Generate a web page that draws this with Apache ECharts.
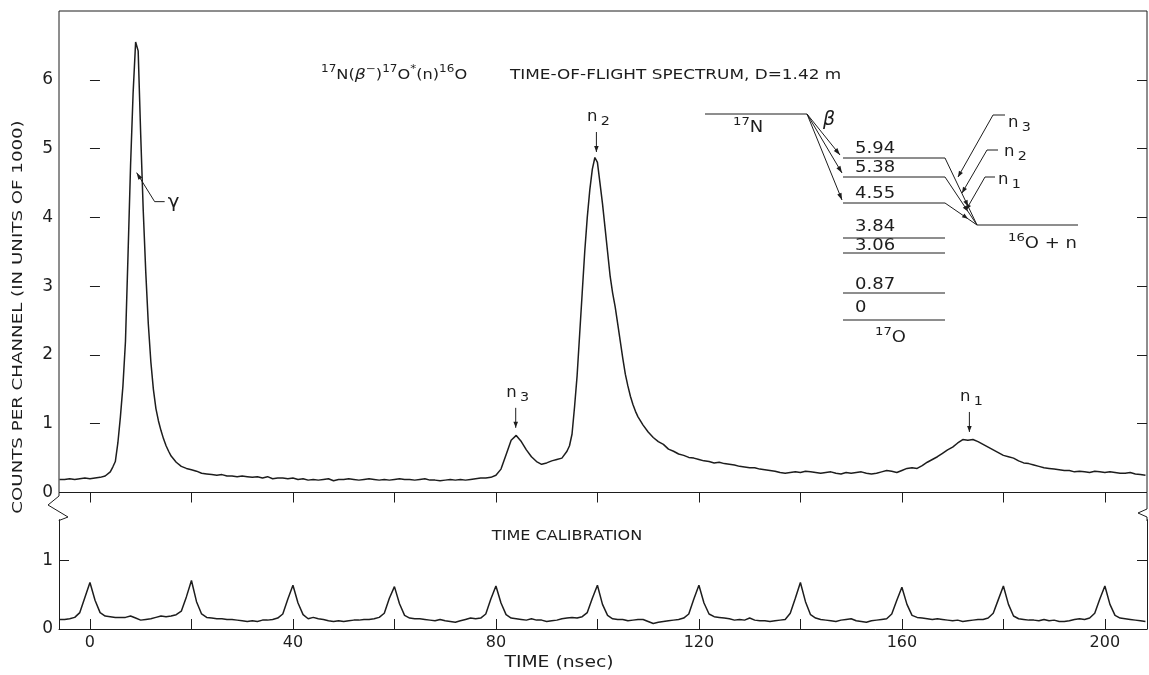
<!DOCTYPE html>
<html>
<head>
<meta charset="utf-8">
<title>17N time-of-flight spectrum</title>
<script src="https://cdn.jsdelivr.net/npm/echarts@6/dist/echarts.min.js"></script>
<style>
  html, body { margin: 0; padding: 0; background: #fff; }
  #container { width: 1149px; height: 675px; }
</style>
</head>
<body>
<div id="container"></div>
<script>
// time-of-flight spectrum, counts per channel in units of 1000
var specTime = [
  -6, -5, -4, -3, -2, -1, 0, 1, 2, 3,
  4, 4.5, 5, 5.5, 6, 6.5, 7, 7.5, 8, 8.5,
  9, 9.5, 10, 10.5, 11, 11.5, 12, 12.5, 13, 13.5,
  14, 14.5, 15, 15.5, 16, 17, 18, 19, 20, 21,
  22, 23, 24, 25, 26, 27, 28, 29, 30, 31,
  32, 33, 34, 35, 36, 37, 38, 39, 40, 41,
  42, 43, 44, 45, 46, 47, 48, 49, 50, 51,
  52, 53, 54, 55, 56, 57, 58, 59, 60, 61,
  62, 63, 64, 65, 66, 67, 68, 69, 70, 71,
  72, 73, 74, 75, 76, 77, 78, 79, 80, 81,
  82, 83, 84, 85, 86, 87, 88, 89, 90, 91,
  92, 93,
  94, 94.5, 95, 95.5, 96, 96.5, 97, 97.5, 98, 98.5,
  99, 99.5, 100, 100.5, 101, 101.5, 102, 102.5, 103, 103.5,
  104, 104.5, 105, 105.5, 106, 106.5, 107, 107.5, 108,
  109, 110, 111, 112, 113, 114, 115, 116, 117, 118,
  119, 120, 121, 122, 123, 124, 125, 126, 127, 128,
  129, 130, 131, 132, 133, 134, 135, 136, 137, 138,
  139, 140, 141, 142, 143, 144, 145, 146, 147, 148,
  149, 150, 151, 152, 153, 154, 155, 156, 157, 158,
  159, 160, 161, 162, 163, 164, 165, 166, 167, 168,
  169, 170, 171, 172, 173, 174, 175, 176, 177, 178,
  179, 180, 181, 182, 183, 184, 185, 186, 187, 188,
  189, 190, 191, 192, 193, 194, 195, 196, 197, 198,
  199, 200, 201, 202, 203, 204, 205, 206, 207, 208
];
var specCounts = [
  0.19, 0.19, 0.20, 0.19, 0.20, 0.21, 0.20, 0.21, 0.22, 0.24,
  0.30, 0.37, 0.45, 0.72, 1.10, 1.55, 2.20, 3.45, 4.75, 5.80,
  6.55, 6.42, 5.20, 4.10, 3.20, 2.45, 1.90, 1.50, 1.22, 1.04,
  0.90, 0.78, 0.68, 0.60, 0.53, 0.44, 0.38, 0.35, 0.33, 0.31,
  0.28, 0.27, 0.26, 0.25, 0.26, 0.24, 0.24, 0.23, 0.24, 0.23,
  0.22, 0.23, 0.21, 0.23, 0.20, 0.21, 0.21, 0.20, 0.21, 0.19,
  0.20, 0.18, 0.19, 0.18, 0.19, 0.20, 0.17, 0.19, 0.19, 0.20,
  0.19, 0.18, 0.19, 0.20, 0.19, 0.18, 0.19, 0.18, 0.19, 0.20,
  0.19, 0.19, 0.18, 0.19, 0.20, 0.18, 0.18, 0.17, 0.18, 0.19,
  0.18, 0.19, 0.18, 0.19, 0.20, 0.21, 0.21, 0.22, 0.25, 0.34,
  0.55, 0.76, 0.83, 0.74, 0.62, 0.52, 0.45, 0.41, 0.43, 0.46,
  0.48, 0.50,
  0.60, 0.68, 0.85, 1.25, 1.70, 2.30, 2.90, 3.50, 4.00, 4.40,
  4.70, 4.87, 4.80, 4.50, 4.20, 3.85, 3.50, 3.15, 2.90, 2.70,
  2.45, 2.20, 1.95, 1.72, 1.55, 1.40, 1.28, 1.18, 1.10,
  0.98, 0.88, 0.80, 0.74, 0.70, 0.63, 0.60, 0.56, 0.54, 0.51,
  0.50, 0.48, 0.46, 0.45, 0.43, 0.44, 0.42, 0.41, 0.40, 0.38,
  0.37, 0.36, 0.36, 0.34, 0.33, 0.32, 0.31, 0.29, 0.28, 0.29,
  0.30, 0.29, 0.31, 0.30, 0.29, 0.28, 0.29, 0.30, 0.28, 0.27,
  0.29, 0.28, 0.29, 0.30, 0.28, 0.27, 0.28, 0.30, 0.32, 0.31,
  0.29, 0.32, 0.35, 0.36, 0.35, 0.39, 0.44, 0.48, 0.52, 0.57,
  0.62, 0.66, 0.72, 0.77, 0.76, 0.77, 0.74, 0.70, 0.66, 0.62,
  0.58, 0.54, 0.52, 0.50, 0.46, 0.43, 0.42, 0.40, 0.38, 0.36,
  0.35, 0.34, 0.33, 0.32, 0.32, 0.30, 0.31, 0.30, 0.29, 0.31,
  0.30, 0.29, 0.30, 0.29, 0.28, 0.28, 0.29, 0.27, 0.26, 0.25
];

// time calibration trace, one channel per nsec from calStart
var calStart = -6;
var calCounts = [
  0.14, 0.14, 0.15, 0.17, 0.24, 0.46,
  0.68, 0.42, 0.24, 0.19, 0.18, 0.17, 0.17, 0.17, 0.19, 0.16, 0.13, 0.14, 0.15, 0.17, 0.19, 0.18, 0.19, 0.21, 0.26, 0.47,
  0.71, 0.40, 0.22, 0.17, 0.16, 0.15, 0.15, 0.14, 0.14, 0.13, 0.12, 0.11, 0.12, 0.11, 0.13, 0.13, 0.14, 0.16, 0.22, 0.44,
  0.64, 0.38, 0.21, 0.15, 0.17, 0.15, 0.14, 0.12, 0.11, 0.12, 0.11, 0.12, 0.13, 0.13, 0.14, 0.14, 0.15, 0.17, 0.23, 0.45,
  0.62, 0.37, 0.20, 0.16, 0.15, 0.15, 0.14, 0.13, 0.12, 0.14, 0.12, 0.11, 0.10, 0.12, 0.14, 0.16, 0.15, 0.16, 0.22, 0.44,
  0.63, 0.38, 0.21, 0.16, 0.15, 0.14, 0.13, 0.15, 0.13, 0.13, 0.11, 0.12, 0.13, 0.15, 0.16, 0.17, 0.16, 0.18, 0.24, 0.45,
  0.64, 0.36, 0.20, 0.15, 0.14, 0.14, 0.12, 0.13, 0.14, 0.14, 0.11, 0.08, 0.10, 0.11, 0.12, 0.13, 0.14, 0.16, 0.22, 0.44,
  0.64, 0.38, 0.22, 0.18, 0.17, 0.16, 0.15, 0.13, 0.14, 0.13, 0.16, 0.13, 0.12, 0.12, 0.11, 0.12, 0.13, 0.14, 0.23, 0.45,
  0.68, 0.40, 0.21, 0.16, 0.14, 0.13, 0.12, 0.11, 0.13, 0.14, 0.15, 0.12, 0.11, 0.10, 0.12, 0.13, 0.14, 0.15, 0.22, 0.42,
  0.61, 0.36, 0.20, 0.17, 0.16, 0.15, 0.14, 0.15, 0.14, 0.13, 0.12, 0.13, 0.11, 0.12, 0.13, 0.14, 0.14, 0.16, 0.23, 0.43,
  0.63, 0.36, 0.19, 0.15, 0.14, 0.13, 0.13, 0.12, 0.14, 0.12, 0.13, 0.11, 0.11, 0.12, 0.14, 0.15, 0.14, 0.16, 0.23, 0.44,
  0.63, 0.36, 0.20, 0.16, 0.15, 0.14, 0.13, 0.12, 0.11
];

var timeTicks = [0, 20, 40, 60, 80, 100, 120, 140, 160, 180, 200];
var timeLabels = [0, 40, 80, 120, 160, 200];
var countTicks = [0, 1, 2, 3, 4, 5, 6];
var calTicks = [0, 1];

// peaks of the spectrum marked with an arrow: subscript, time, counts at arrow tip
var peakNames = ['2', '3', '1'];
var peakTimes = [99.8, 83.9, 173.3];
var peakCounts = [4.95, 0.94, 0.88];
var gammaTip = [9.2, 4.65];

// 17O levels in the inset (MeV)
var levelNames = ['5.94', '5.38', '4.55', '3.84', '3.06', '0.87', '0'];

var ink = '#1d1d1d';
var font = 'DejaVu Sans';

var specData = specTime.map(function (t, i) { return [t, specCounts[i]]; });
var calData = calCounts.map(function (c, i) { return [calStart + i, c]; });

var chart = echarts.init(document.getElementById('container'));

var tickStyle = { color: ink, width: 1 };

chart.setOption({
  backgroundColor: '#ffffff',
  animation: false,
  grid: [
    { left: 59, right: 2, top: 11, height: 481.5, show: true, borderColor: ink, borderWidth: 1 },
    { left: 59, right: 2, top: 519.7, height: 109.3 }
  ],
  xAxis: [
    {
      gridIndex: 0, type: 'value', position: 'top', min: -6.1, max: 208.3,
      axisLine: { show: false },
      axisTick: { inside: true, length: 10, customValues: timeTicks, lineStyle: tickStyle },
      axisLabel: { show: false },
      splitLine: { show: false }
    },
    {
      gridIndex: 1, type: 'value', position: 'bottom', min: -6.1, max: 208.3,
      axisLine: { onZero: false, lineStyle: { color: ink, width: 1 } },
      axisTick: { inside: true, length: 10, customValues: timeTicks, lineStyle: tickStyle },
      axisLabel: { customValues: timeLabels, margin: 6, color: ink, fontFamily: font, fontSize: 16 },
      splitLine: { show: false }
    }
  ],
  yAxis: [
    {
      gridIndex: 0, type: 'value', position: 'left', min: 0, max: 7,
      axisLine: { show: false },
      axisTick: { inside: true, length: 10, customValues: countTicks, lineStyle: tickStyle },
      axisLabel: { customValues: countTicks, margin: 6, color: ink, fontFamily: font, fontSize: 17 },
      splitLine: { show: false }
    },
    {
      gridIndex: 0, type: 'value', position: 'right', min: 0, max: 7,
      axisLine: { show: false },
      axisTick: { inside: true, length: 10, customValues: countTicks, lineStyle: tickStyle },
      axisLabel: { show: false },
      splitLine: { show: false }
    },
    {
      gridIndex: 1, type: 'value', position: 'left', min: 0, max: 1.6,
      axisLine: { onZero: false, lineStyle: { color: ink, width: 1 } },
      axisTick: { inside: true, length: 10, customValues: calTicks, lineStyle: tickStyle },
      axisLabel: { customValues: calTicks, margin: 6, color: ink, fontFamily: font, fontSize: 17 },
      splitLine: { show: false }
    },
    {
      gridIndex: 1, type: 'value', position: 'right', min: 0, max: 1.6,
      axisLine: { onZero: false, lineStyle: { color: ink, width: 1 } },
      axisTick: { inside: true, length: 10, customValues: calTicks, lineStyle: tickStyle },
      axisLabel: { show: false },
      splitLine: { show: false }
    }
  ],
  series: [
    {
      name: 'spectrum', type: 'line', xAxisIndex: 0, yAxisIndex: 0, data: specData,
      showSymbol: false, silent: true, lineStyle: { color: ink, width: 1.5 }
    },
    {
      name: 'calibration', type: 'line', xAxisIndex: 1, yAxisIndex: 2, data: calData,
      showSymbol: false, silent: true, lineStyle: { color: ink, width: 1.5 }
    }
  ]
});

// ---- annotations ----
var g = [];

function seg(x1, y1, x2, y2) {
  g.push({ type: 'line', silent: true, shape: { x1: x1, y1: y1, x2: x2, y2: y2 }, style: { stroke: ink, lineWidth: 1 } });
}
function head(x, y, ang, len) {
  len = len || 7;
  var w = 2.3, c = Math.cos(ang), s = Math.sin(ang);
  g.push({
    type: 'polygon', silent: true,
    shape: { points: [[x, y], [x - len * c + w * s, y - len * s - w * c], [x - len * c - w * s, y - len * s + w * c]] },
    style: { fill: ink }
  });
}
function arrow(x1, y1, x2, y2, len) {
  seg(x1, y1, x2, y2);
  head(x2, y2, Math.atan2(y2 - y1, x2 - x1), len);
}
function poly(points) {
  g.push({ type: 'polyline', silent: true, shape: { points: points }, style: { stroke: ink, lineWidth: 1, fill: null } });
}
function rich(size) {
  return {
    m: { fontFamily: font, fontSize: size, lineHeight: 22, fill: ink },
    i: { fontFamily: font, fontSize: size + 1, fontStyle: 'italic', lineHeight: 22, fill: ink },
    u: { fontFamily: font, fontSize: Math.round(size * 0.72), lineHeight: 12, verticalAlign: 'top', fill: ink },
    d: { fontFamily: font, fontSize: Math.round(size * 0.85), lineHeight: 14, verticalAlign: 'bottom', padding: [0, 0, 0, 3], fill: ink }
  };
}
function txt(x, y, text, size, align, sx, extra) {
  var style = {
    text: text, fontFamily: font, fontSize: size, fill: ink,
    align: align || 'left', verticalAlign: 'middle',
    textAlign: align || 'left', textVerticalAlign: 'middle'
  };
  if (text.indexOf('{') >= 0) style.rich = rich(size);
  if (extra) for (var k in extra) style[k] = extra[k];
  g.push({ type: 'text', silent: true, x: x, y: y, scaleX: sx || 1.2, style: style });
}

// frame breaks between the two panels
poly([[59, 492.5], [59, 496], [48, 505], [68, 517], [59, 520.5], [59, 521]]);
poly([[1147, 492.5], [1147, 509], [1138, 513], [1147, 517], [1147, 521]]);

// title and axis names
txt(321, 75, '{u|17}{m|N(}{i|β}{u|−}{m|)}{u|17}{m|O}{u|*}{m|(n)}{u|16}{m|O}', 13.5, 'left', 1.2);
txt(510, 75, 'TIME-OF-FLIGHT SPECTRUM, D=1.42 m', 13.5, 'left', 1.25);
txt(567, 536, 'TIME CALIBRATION', 14, 'center', 1.15);
txt(559, 663, 'TIME (nsec)', 15, 'center', 1.25);
g.push({
  type: 'text', silent: true, x: 18, y: 317, rotation: Math.PI / 2, scaleX: 1.3,
  style: {
    text: 'COUNTS PER CHANNEL (IN UNITS OF 1000)', fontFamily: font, fontSize: 14, fill: ink,
    align: 'center', verticalAlign: 'middle', textAlign: 'center', textVerticalAlign: 'middle'
  }
});

// peak markers placed through the axes
peakNames.forEach(function (sub, i) {
  var p = chart.convertToPixel({ xAxisIndex: 0, yAxisIndex: 0 }, [peakTimes[i], peakCounts[i]]);
  arrow(p[0], p[1] - 20, p[0], p[1], 6);
  txt(p[0] + 2, p[1] - 35, '{m|n}{d|' + sub + '}', 15, 'center', 1.1);
});
var gt = chart.convertToPixel({ xAxisIndex: 0, yAxisIndex: 0 }, gammaTip);
arrow(gt[0] + 18, gt[1] + 29, gt[0], gt[1], 7);
seg(gt[0] + 18, gt[1] + 29, gt[0] + 28, gt[1] + 29);
txt(gt[0] + 31, gt[1] + 30, 'γ', 18, 'left', 1.1);

// inset: 17N beta decay and neutron emission scheme
seg(705, 114, 807, 114);
txt(733, 128, '{u|17}{m|N}', 15, 'left', 1.2);
txt(829, 120, 'β', 19, 'center', 1.0, { fontStyle: 'italic' });
arrow(807, 114, 840, 155);
arrow(807, 114, 842, 173);
arrow(807, 114, 842, 200);

var levelY = [158, 177, 203, 238, 253, 293, 320];
var levelLabelY = [149, 168, 194, 227, 246, 285, 308];
levelNames.forEach(function (name, i) {
  seg(843, levelY[i], 945, levelY[i]);
  txt(855, levelLabelY[i], name, 15, 'left', 1.2);
});
txt(875, 338, '{u|17}{m|O}', 15, 'left', 1.2);

// neutron decays of the unbound levels into 16O + n
[0, 1, 2].forEach(function (i) {
  var y0 = levelY[i];
  seg(945, y0, 977, 225);
  var ang = Math.atan2(225 - y0, 977 - 945);
  var f = 0.72;
  head(945 + f * 32, y0 + f * (225 - y0), ang, 6);
});
seg(977, 225, 1078, 225);
txt(1008, 244, '{u|16}{m|O + n}', 15, 'left', 1.2);

// n3, n2, n1 leaders
seg(993, 115, 1005, 115); arrow(993, 115, 958, 177, 6);
txt(1008, 123, '{m|n}{d|3}', 15, 'left', 1.1);
seg(987, 150, 998, 150); arrow(987, 150, 962, 193, 6);
txt(1004, 152, '{m|n}{d|2}', 15, 'left', 1.1);
seg(985, 177, 995, 177); arrow(985, 177, 966, 210, 6);
txt(998, 180, '{m|n}{d|1}', 15, 'left', 1.1);

chart.setOption({ graphic: g });
</script>
</body>
</html>
